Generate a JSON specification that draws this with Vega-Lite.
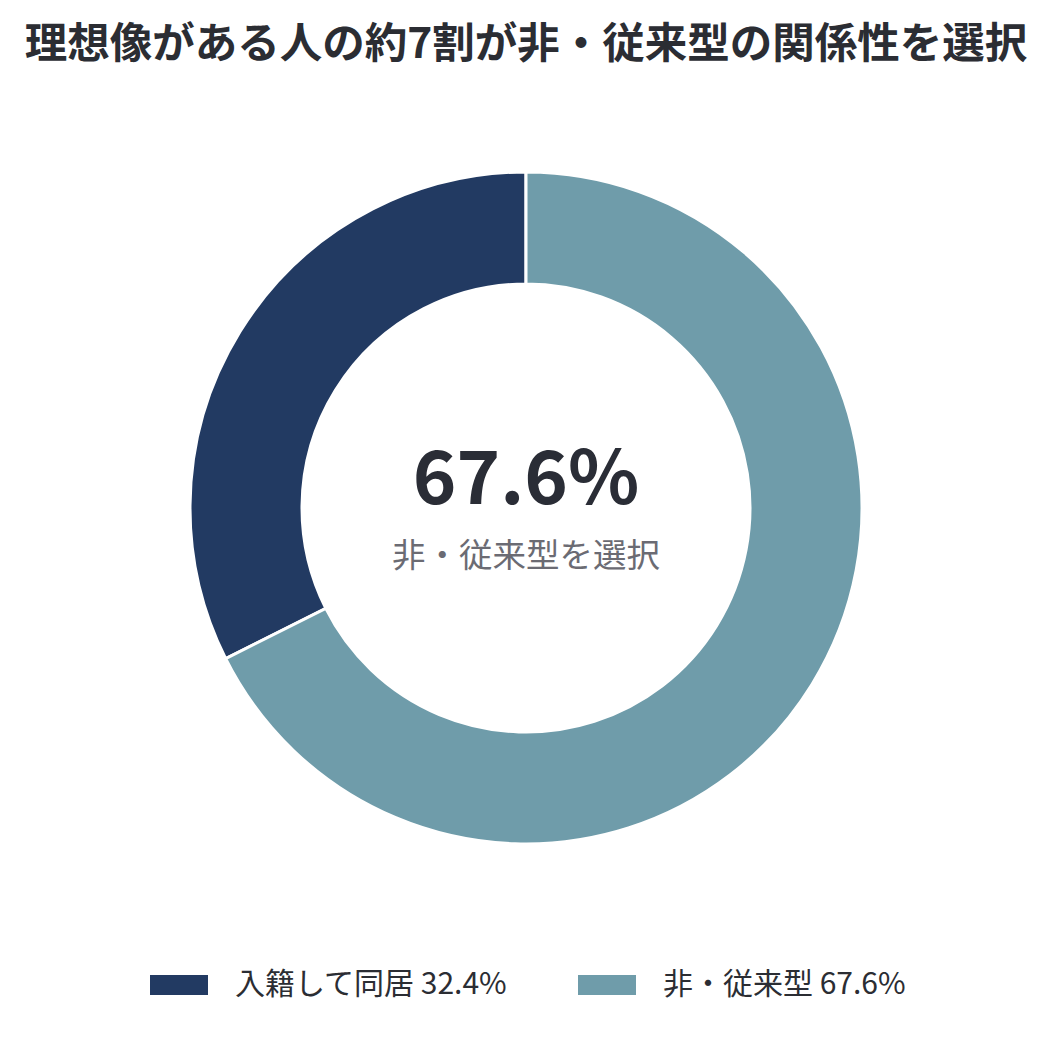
{
  "$schema": "https://vega.github.io/schema/vega-lite/v6.json",
  "width": 1052,
  "height": 856,
  "autosize": {"type": "none"},
  "padding": {"top": 80, "bottom": 102, "left": 0, "right": 0},
  "background": "white",
  "config": {"view": {"stroke": null}, "font": "Noto Sans CJK JP"},
  "title": {
    "text": "理想像がある人の約7割が非・従来型の関係性を選択",
    "font": "Noto Sans CJK JP",
    "fontSize": 42.5,
    "fontWeight": "bold",
    "color": "#2b2d33",
    "anchor": "middle",
    "offset": 14
  },
  "datasets": {
    "main": [
      {"category": "入籍して同居", "label": "入籍して同居 32.4%", "value": 32.4, "ord": 2},
      {"category": "非・従来型", "label": "非・従来型 67.6%", "value": 67.6, "ord": 1}
    ],
    "center": [{"big": "67.6%", "sub": "非・従来型を選択"}]
  },
  "layer": [
    {
      "data": {"name": "main"},
      "mark": {"type": "arc", "outerRadius": 336, "innerRadius": 224, "stroke": "white", "strokeWidth": 3},
      "encoding": {
        "theta": {"field": "value", "type": "quantitative", "stack": true},
        "order": {"field": "ord", "type": "quantitative"},
        "color": {
          "field": "label",
          "type": "nominal",
          "scale": {"domain": ["入籍して同居 32.4%", "非・従来型 67.6%"], "range": ["#223a62", "#6f9caa"]},
          "legend": {
            "title": null,
            "orient": "none",
            "direction": "horizontal",
            "legendX": 150,
            "legendY": 876,
            "padding": 0,
            "symbolType": "M-1,-0.345L1,-0.345L1,0.345L-1,0.345Z",
            "symbolSize": 3364,
            "symbolStrokeWidth": 0,
            "symbolOpacity": 1,
            "labelFont": "Noto Sans CJK JP",
            "labelFontSize": 30,
            "labelColor": "#2b2d33",
            "labelOffset": 27,
            "labelLimit": 600,
            "columnPadding": 70
          }
        }
      }
    },
    {
      "data": {"name": "center"},
      "mark": {"type": "text", "font": "Noto Sans CJK JP", "fontSize": 74, "fontWeight": "bold", "color": "#2a2d36", "baseline": "middle", "align": "center", "dy": -26},
      "encoding": {"text": {"field": "big"}}
    },
    {
      "data": {"name": "center"},
      "mark": {"type": "text", "font": "Noto Sans CJK JP", "fontSize": 33.5, "color": "#6b6b73", "baseline": "middle", "align": "center", "dy": 49},
      "encoding": {"text": {"field": "sub"}}
    }
  ]
}
